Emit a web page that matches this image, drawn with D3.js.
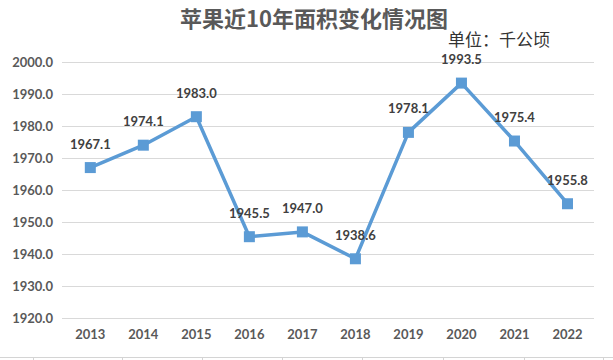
<!DOCTYPE html>
<html>
<head>
<meta charset="utf-8">
<script src="https://cdn.jsdelivr.net/npm/d3@7"></script>
<style>
  html, body { margin: 0; padding: 0; background: #fff; }
  svg { display: block; }
</style>
</head>
<body>
<div id="chart"></div>
<script>
const years = ["2013","2014","2015","2016","2017","2018","2019","2020","2021","2022"];
const areas = [1967.1, 1974.1, 1983.0, 1945.5, 1947.0, 1938.6, 1978.1, 1993.5, 1975.4, 1955.8];
const yTicks = [1920, 1930, 1940, 1950, 1960, 1970, 1980, 1990, 2000];
const titleText = "苹果近10年面积变化情况图";
const unitText = "单位：千公顷";
const sheetColumnEdges = [33, 122, 202, 282, 362, 443, 524, 603];

const W = 613, H = 360;
const svg = d3.select("#chart").append("svg").attr("width", W).attr("height", H);

const x = d3.scaleBand().domain(years).range([63.8, 594]);
const y = d3.scaleLinear().domain([1920, 2000]).range([318.3, 62.3]);

const numFont = "Lato, 'Open Sans', sans-serif";

// gridlines
svg.append("g").selectAll("line").data(yTicks).join("line")
  .attr("x1", 62).attr("x2", 594)
  .attr("y1", d => Math.round(y(d)) + 0.5).attr("y2", d => Math.round(y(d)) + 0.5)
  .attr("stroke", "#d9d9d9").attr("stroke-width", 1);

// y axis
const yAxis = d3.axisLeft(y).tickValues(yTicks).tickFormat(d3.format(".1f")).tickSize(0).tickPadding(0);
const gy = svg.append("g").attr("transform", "translate(53,0)").call(yAxis);
gy.select(".domain").remove();
gy.selectAll("text").attr("font-family", numFont).attr("font-weight", "bold")
  .attr("font-size", 13).attr("fill", "#595959");

// x axis
const xAxis = d3.axisBottom(x).tickSize(0).tickPadding(0);
const gx = svg.append("g").attr("transform", "translate(0,330)").call(xAxis);
gx.select(".domain").remove();
gx.selectAll("text").attr("font-family", numFont).attr("font-weight", "bold")
  .attr("font-size", 13).attr("fill", "#595959");

const cx = d => x(d) + x.bandwidth() / 2;

// line
const line = d3.line().x((d, i) => cx(years[i])).y(d => y(d));
svg.append("path").datum(areas).attr("d", line)
  .attr("fill", "none").attr("stroke", "#5b9bd5").attr("stroke-width", 3.5)
  .attr("stroke-linejoin", "round");

// markers
const ms = 11;
svg.append("g").selectAll("rect").data(areas).join("rect")
  .attr("x", (d, i) => cx(years[i]) - ms / 2)
  .attr("y", d => y(d) - ms / 2)
  .attr("width", ms).attr("height", ms)
  .attr("fill", "#5b9bd5");

// data labels
svg.append("g").selectAll("text").data(areas).join("text")
  .attr("x", (d, i) => cx(years[i]))
  .attr("y", d => y(d) - 19)
  .attr("text-anchor", "middle")
  .attr("font-family", numFont).attr("font-weight", "bold")
  .attr("font-size", 13).attr("fill", "#404040")
  .text(d => d3.format(".1f")(d));

// title
svg.append("text").attr("x", 314).attr("y", 27).attr("text-anchor", "middle")
  .attr("font-family", "'Noto Sans CJK SC', sans-serif").attr("font-weight", "bold")
  .attr("font-size", 22).attr("fill", "#595959").text(titleText);

svg.append("text").attr("x", 448).attr("y", 46).attr("text-anchor", "start")
  .attr("font-family", "'Noto Sans CJK SC', sans-serif")
  .attr("font-size", 17).attr("fill", "#333333").text(unitText);

// sheet cell borders at bottom
svg.append("line").attr("x1", 0).attr("x2", W).attr("y1", 357.5).attr("y2", 357.5)
  .attr("stroke", "#d4d4d4").attr("stroke-width", 1);
svg.append("g").selectAll("line").data(sheetColumnEdges).join("line")
  .attr("x1", d => d + 0.5).attr("x2", d => d + 0.5).attr("y1", 358).attr("y2", 360)
  .attr("stroke", "#d4d4d4").attr("stroke-width", 1);
</script>
</body>
</html>
